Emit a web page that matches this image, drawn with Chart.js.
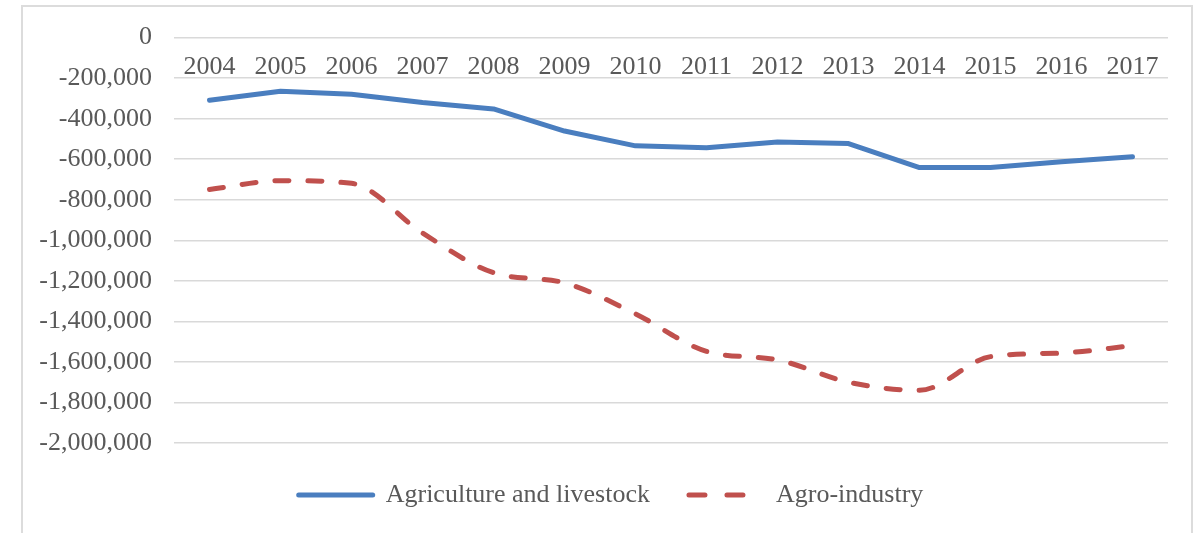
<!DOCTYPE html>
<html>
<head>
<meta charset="utf-8">
<script src="https://cdn.jsdelivr.net/npm/chart.js@4"></script>
<style>
  html, body { margin: 0; padding: 0; background: #fff; }
  #frame { position: absolute; left: 21px; top: 5px; width: 1172px; height: 560px; border: 2px solid #dcdcdc; box-sizing: border-box; }
  #wrap { position: absolute; left: 0; top: 0; width: 1199px; height: 533px; }
</style>
</head>
<body>
<div id="frame"></div>
<div id="wrap"><canvas id="myChart"></canvas></div>
<script>
const years = ['2004', '2005', '2006', '2007', '2008', '2009', '2010', '2011', '2012', '2013', '2014', '2015', '2016', '2017'];
const agriculture = [-309000, -265000, -279000, -320000, -352000, -461000, -534000, -543000, -515000, -523000, -641000, -641000, -613000, -588000];
const agroIndustry = [-749000, -706000, -719000, -964000, -1160000, -1210000, -1363000, -1548000, -1590000, -1700000, -1740000, -1574000, -1556000, -1520000];
const yTicks = { min: -2000000, max: 0, step: 200000 };

const textColor = '#595959';
const font = { family: '"Liberation Serif", "Times New Roman", serif', size: 26 };

// nudge the legend a little to the right, like the original
const legendShift = {
    id: 'legendShift',
    afterLayout: (chart) => {
        chart.legend.left += 15;
        chart.legend.right += 15;
    }
};

const ctx = document.getElementById('myChart').getContext('2d');
const myChart = new Chart(ctx, {
    type: 'line',
    data: {
        labels: years,
        datasets: [
            {
                label: 'Agriculture and livestock',
                data: agriculture,
                borderColor: '#4a7ebf',
                backgroundColor: '#4a7ebf',
                borderWidth: 5,
                borderCapStyle: 'round',
                borderJoinStyle: 'round',
                pointRadius: 0,
                tension: 0
            },
            {
                label: 'Agro-industry',
                data: agroIndustry,
                borderColor: '#c0504d',
                backgroundColor: '#c0504d',
                borderWidth: 5,
                borderDash: [14, 19],
                borderCapStyle: 'round',
                borderJoinStyle: 'round',
                pointRadius: 0,
                cubicInterpolationMode: 'monotone'
            }
        ]
    },
    options: {
        responsive: true,
        maintainAspectRatio: false,
        animation: false,
        layout: {
            padding: { top: 35, left: 24, right: 31, bottom: 15 }
        },
        scales: {
            x: {
                position: { y: 0 },
                offset: true,
                grid: { display: false },
                border: { display: false },
                ticks: { color: textColor, font: font, padding: 6, maxRotation: 0 }
            },
            y: {
                min: yTicks.min,
                max: yTicks.max,
                afterFit: (scale) => { scale.width = 150; },
                grid: { color: '#d9d9d9', lineWidth: 1.5, drawTicks: false },
                border: { display: false },
                ticks: {
                    stepSize: yTicks.step,
                    color: textColor,
                    font: font,
                    padding: 22,
                    callback: (v) => v.toLocaleString('en-US')
                }
            }
        },
        plugins: {
            legend: {
                position: 'bottom',
                labels: {
                    color: textColor,
                    font: font,
                    usePointStyle: true,
                    pointStyle: 'line',
                    pointStyleWidth: 74,
                    padding: 39,
                    generateLabels: (chart) => {
                        const items = Chart.defaults.plugins.legend.labels.generateLabels(chart);
                        items.forEach(item => {
                            const ds = chart.data.datasets[item.datasetIndex];
                            // legend sample shows two longer dashes
                            item.lineDash = ds.borderDash ? [16, 22] : [];
                            item.lineCap = 'round';
                            item.lineWidth = 5;
                            item.strokeStyle = ds.borderColor;
                        });
                        return items;
                    }
                }
            },
            tooltip: { enabled: false }
        }
    },
    plugins: [legendShift]
});
</script>
</body>
</html>
